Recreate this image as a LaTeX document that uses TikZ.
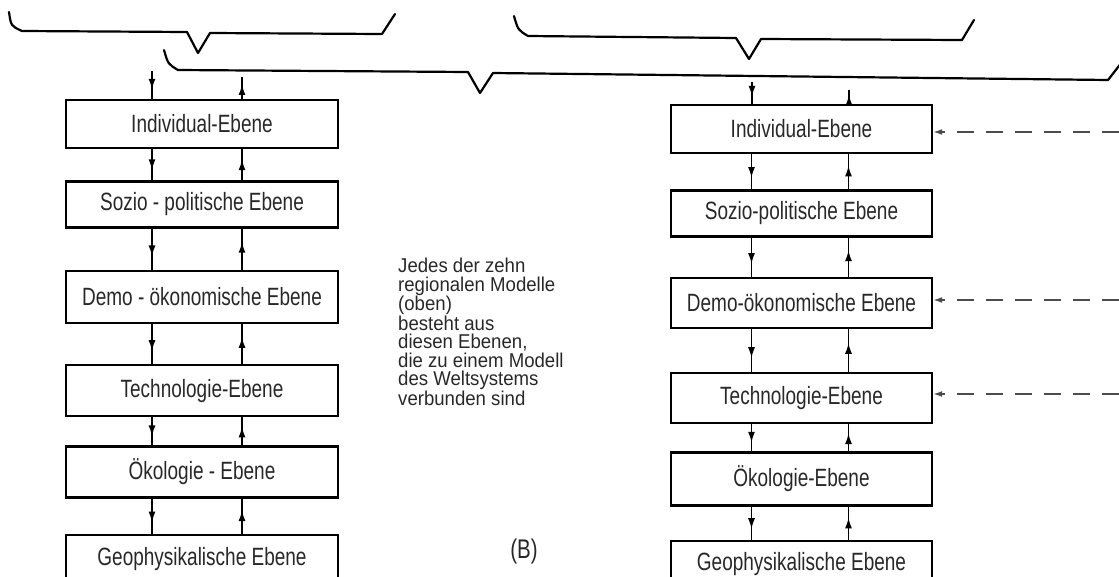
\documentclass[tikz,border=0pt]{standalone}
\usepackage{fontspec}
\setmainfont{Liberation Sans}[FakeStretch=0.76]
\newfontfamily\textschrift{Liberation Sans}[FakeStretch=0.93]
\usepackage{tikz}
\usetikzlibrary{arrows.meta, positioning, decorations.markings, calc}
\definecolor{tinte}{RGB}{40,40,40}
\newcommand{\ebenefont}{\fontsize{25}{27}\selectfont}
\newcommand{\mittefont}{\textschrift\fontsize{20}{18.4}\selectfont}

\begin{document}
\begin{tikzpicture}[x=1pt, y=-1pt,
    ebene/.style={draw=black, line width=2.4pt, inner sep=0pt, minimum height=48pt, text=tinte, font=\ebenefont},
    links/.style={ebene, minimum width=272pt},
    rechts/.style={ebene, minimum width=261pt},
    pfeil/.style={draw=black, line width=1.9pt, postaction={decorate},
      decoration={markings, mark=at position 0.68 with {\arrow{Latex[length=11pt,width=7pt]}}}},
    klammer/.style={draw=black, line width=2.2pt, line join=round, line cap=round},
    strich/.style={draw=black!70, line width=1.5pt, dash pattern=on 17pt off 12pt, -{Latex[length=9pt,width=6pt]}}]
    \useasboundingbox (0,0) rectangle (1119,576);
    %the three braces at the top
    \draw[klammer] (9,12) .. controls (11,26) .. (22,31) -- (187,32) -- (198,53) -- (210,33) -- (382,34) -- (395,14);
    \draw[klammer] (514,16) .. controls (518,30) .. (528,36) -- (736,38) -- (749,59) -- (761,39) -- (962,40) -- (974,20);
    \draw[klammer] (164,50) .. controls (168,64) .. (178,70) -- (468,72) -- (480,93) -- (493,73) -- (1108,80) -- (1122,62);
    %left column of levels
    \node (l1) [links] at (202,124) {Individual-Ebene};
    \node (l2) [links, below=31pt of l1, minimum height=46pt] {Sozio - politische Ebene};
    \node (l3) [links, below=41pt of l2, minimum height=52pt] {Demo - ökonomische Ebene};
    \node (l4) [links, below=40pt of l3, minimum height=51pt] {Technologie-Ebene};
    \node (l5) [links, below=28pt of l4, minimum height=51pt] {Ökologie - Ebene};
    \node (l6) [links, below=35pt of l5] {Geophysikalische Ebene};
    %right column of levels
    \node (r1) [rechts] at (801.5,129) {Individual-Ebene};
    \node (r2) [rechts, below=35pt of r1, minimum height=46pt] {Sozio-politische Ebene};
    \node (r3) [rechts, below=39pt of r2, minimum height=50pt] {Demo-ökonomische Ebene};
    \node (r4) [rechts, below=43pt of r3, minimum height=50pt] {Technologie-Ebene};
    \node (r5) [rechts, below=27pt of r4, minimum height=53pt] {Ökologie-Ebene};
    \node (r6) [rechts, below=33pt of r5, minimum height=46pt] {Geophysikalische Ebene};
    %free ends of the arrows at the top and at the right
    \coordinate (lein) at (152,71);%into the left column
    \coordinate (laus) at (242,77);%out of the left column
    \coordinate (rein) at (752,82);%into the right column
    \coordinate (raus) at (849,90);%out of the right column
    \coordinate (d1) at (1119,132);
    \coordinate (d3) at (1119,300);
    \coordinate (d4) at (1119,394);
    %arrows of the left column
    \draw[pfeil] (lein) -- (lein |- l1.north);
    \draw[pfeil] (laus |- l1.north) -- (laus);
    \draw[pfeil] ([xshift=-50pt]l1.south) -- ([xshift=-50pt]l2.north);
    \draw[pfeil] ([xshift=40pt]l2.north) -- ([xshift=40pt]l1.south);
    \draw[pfeil] ([xshift=-50pt]l2.south) -- ([xshift=-50pt]l3.north);
    \draw[pfeil] ([xshift=40pt]l3.north) -- ([xshift=40pt]l2.south);
    \draw[pfeil] ([xshift=-50pt]l3.south) -- ([xshift=-50pt]l4.north);
    \draw[pfeil] ([xshift=40pt]l4.north) -- ([xshift=40pt]l3.south);
    \draw[pfeil] ([xshift=-50pt]l4.south) -- ([xshift=-50pt]l5.north);
    \draw[pfeil] ([xshift=40pt]l5.north) -- ([xshift=40pt]l4.south);
    \draw[pfeil] ([xshift=-50pt]l5.south) -- ([xshift=-50pt]l6.north);
    \draw[pfeil] ([xshift=40pt]l6.north) -- ([xshift=40pt]l5.south);
    %arrows of the right column
    \draw[pfeil] (rein) -- (rein |- r1.north);
    \draw[pfeil] (raus |- r1.north) -- (raus);
    \draw[pfeil] ([xshift=-50pt]r1.south) -- ([xshift=-50pt]r2.north);
    \draw[pfeil] ([xshift=47pt]r2.north) -- ([xshift=47pt]r1.south);
    \draw[pfeil] ([xshift=-50pt]r2.south) -- ([xshift=-50pt]r3.north);
    \draw[pfeil] ([xshift=47pt]r3.north) -- ([xshift=47pt]r2.south);
    \draw[pfeil] ([xshift=-50pt]r3.south) -- ([xshift=-50pt]r4.north);
    \draw[pfeil] ([xshift=47pt]r4.north) -- ([xshift=47pt]r3.south);
    \draw[pfeil] ([xshift=-50pt]r4.south) -- ([xshift=-50pt]r5.north);
    \draw[pfeil] ([xshift=47pt]r5.north) -- ([xshift=47pt]r4.south);
    \draw[pfeil] ([xshift=-50pt]r5.south) -- ([xshift=-50pt]r6.north);
    \draw[pfeil] ([xshift=47pt]r6.north) -- ([xshift=47pt]r5.south);
    %dashed arrows coming in from the right
    \draw[strich] (d1) -- (d1 -| r1.east);
    \draw[strich] (d3) -- (d3 -| r3.east);
    \draw[strich] (d4) -- (d4 -| r4.east);
    %text in the middle
    \node (info) [anchor=north west, align=left, inner sep=0pt, text=tinte, font=\mittefont] at (398,258)
      {Jedes der zehn\\regionalen Modelle\\(oben)\\besteht aus\\diesen Ebenen,\\die zu einem Modell\\des Weltsystems\\verbunden sind};
    \node (bild) [text=tinte, font=\fontsize{27}{29}\selectfont] at (524,552) {(B)};
\end{tikzpicture}
\end{document}
